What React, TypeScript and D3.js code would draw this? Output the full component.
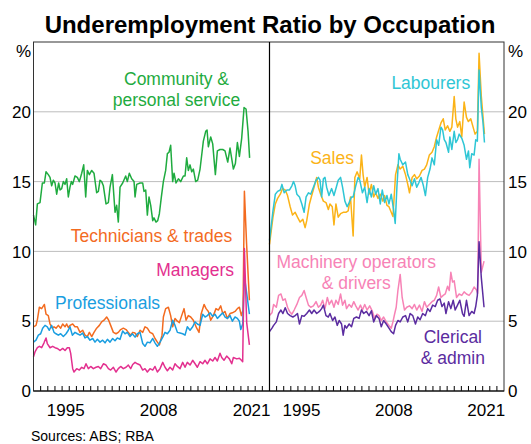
import React from 'react';
import * as d3 from 'd3';

type Pt = [number, number];

// underemployment ratio, per cent, [year, value]
const community: Pt[] = [
  [1991.0, 12.6], [1991.3, 11.9], [1991.54, 13.4], [1991.91, 13.5], [1992.24, 14.9], [1992.52, 14.9],
  [1992.75, 15.7], [1993.07, 15.5], [1993.31, 15.3], [1993.54, 14.7], [1993.77, 15.1], [1994.01, 14.9],
  [1994.24, 14.1], [1994.52, 14.9], [1994.71, 14.4], [1994.94, 14.5], [1995.17, 15.0], [1995.41, 14.8],
  [1995.64, 15.2], [1995.87, 13.9], [1996.1, 14.6], [1996.29, 15.0], [1996.48, 14.8], [1996.8, 15.4],
  [1997.13, 15.3], [1997.41, 15.0], [1997.74, 15.6], [1998.02, 16.2], [1998.3, 13.9], [1998.53, 15.8],
  [1998.81, 15.5], [1999.14, 15.8], [1999.46, 15.6], [1999.83, 14.2], [2000.07, 14.3], [2000.3, 15.1],
  [2000.53, 15.0], [2000.77, 14.7], [2001.14, 13.4], [2001.47, 13.5], [2001.7, 14.6], [2002.03, 15.5],
  [2002.4, 12.8], [2002.63, 13.3], [2002.86, 12.1], [2003.1, 14.6], [2003.47, 14.9], [2003.89, 15.4],
  [2004.12, 15.0], [2004.4, 15.6], [2004.73, 15.2], [2005.06, 15.0], [2005.2, 13.9], [2005.43, 14.8],
  [2005.9, 14.9], [2006.27, 14.9], [2006.45, 14.3], [2006.69, 14.4], [2006.92, 12.6], [2007.15, 13.9],
  [2007.39, 13.3], [2007.67, 12.2], [2007.85, 12.4], [2008.13, 12.1], [2008.37, 12.2], [2008.6, 12.7],
  [2008.88, 13.9], [2009.16, 15.0], [2009.48, 15.8], [2009.72, 17.0], [2009.95, 17.1], [2010.18, 17.6],
  [2010.46, 15.0], [2010.65, 15.6], [2010.93, 14.9], [2011.26, 15.2], [2011.58, 15.0], [2011.96, 15.4],
  [2012.19, 15.4], [2012.42, 16.7], [2012.65, 15.8], [2012.89, 16.2], [2013.12, 15.7], [2013.35, 15.9],
  [2013.68, 15.0], [2013.96, 15.1], [2014.29, 15.9], [2014.75, 17.9], [2015.08, 18.6], [2015.27, 18.7],
  [2015.45, 17.5], [2015.78, 18.2], [2016.06, 17.7], [2016.43, 15.5], [2016.71, 17.2], [2017.08, 17.3],
  [2017.46, 17.3], [2017.78, 17.2], [2018.16, 16.4], [2018.48, 17.4], [2018.95, 15.9], [2019.23, 16.3],
  [2019.51, 17.8], [2019.79, 16.8], [2020.11, 18.1], [2020.44, 20.3], [2020.72, 20.2], [2021.0, 18.6],
  [2021.22, 16.7],
];

const technicians: Pt[] = [
  [1991.0, 4.6], [1991.35, 4.7], [1991.54, 5.1], [1991.82, 6.0], [1992.14, 5.9], [1992.52, 6.2],
  [1992.75, 5.5], [1993.07, 5.4], [1993.31, 4.8], [1993.63, 4.5], [1993.87, 4.6], [1994.15, 4.5],
  [1994.47, 4.7], [1994.8, 4.5], [1995.08, 4.8], [1995.41, 4.6], [1995.64, 4.8], [1995.87, 4.55],
  [1996.1, 4.7], [1996.48, 4.8], [1996.8, 4.6], [1997.13, 4.6], [1997.5, 4.2], [1997.88, 4.35],
  [1998.2, 4.0], [1998.53, 3.9], [1998.81, 4.2], [1999.14, 3.9], [1999.46, 4.2], [1999.83, 4.5],
  [2000.21, 4.7], [2000.53, 4.95], [2000.86, 5.07], [2001.23, 5.3], [2001.51, 5.07], [2001.79, 4.7],
  [2002.17, 4.2], [2002.54, 4.1], [2002.86, 4.2], [2003.19, 4.4], [2003.56, 4.5], [2003.94, 4.4],
  [2004.26, 4.2], [2004.59, 4.0], [2004.87, 4.2], [2005.2, 4.15], [2005.52, 3.9], [2005.9, 4.35],
  [2006.27, 4.2], [2006.59, 4.6], [2006.92, 4.5], [2007.29, 4.2], [2007.67, 4.1], [2007.99, 3.76],
  [2008.32, 3.5], [2008.6, 3.3], [2008.97, 4.0], [2009.16, 5.3], [2009.48, 5.9], [2009.86, 6.0],
  [2010.18, 5.4], [2010.46, 4.6], [2010.79, 5.2], [2011.12, 5.0], [2011.4, 4.9], [2011.72, 5.4],
  [2012.05, 5.9], [2012.33, 5.07], [2012.65, 5.4], [2012.98, 5.3], [2013.35, 5.07], [2013.82, 4.5],
  [2014.15, 4.2], [2014.43, 5.5], [2014.85, 6.2], [2015.13, 5.9], [2015.45, 5.7], [2015.78, 5.07],
  [2016.15, 5.4], [2016.52, 5.9], [2016.85, 5.8], [2017.18, 6.1], [2017.46, 5.55], [2017.78, 5.7],
  [2018.11, 5.2], [2018.48, 5.55], [2018.81, 5.6], [2019.18, 5.7], [2019.51, 5.9], [2019.79, 6.0],
  [2020.07, 5.4], [2020.3, 5.8], [2020.49, 14.3], [2020.8, 10.5], [2021.19, 6.5],
];

const professionals: Pt[] = [
  [1991.0, 3.5], [1991.35, 3.64], [1991.68, 4.0], [1992.0, 4.1], [1992.28, 4.5], [1992.61, 4.7],
  [1992.93, 4.6], [1993.21, 4.35], [1993.54, 4.7], [1993.87, 4.2], [1994.15, 4.1], [1994.47, 4.0],
  [1994.8, 4.1], [1995.17, 3.9], [1995.55, 4.1], [1995.87, 4.35], [1996.1, 4.6], [1996.43, 4.0],
  [1996.8, 4.2], [1997.13, 4.1], [1997.5, 4.0], [1997.88, 4.15], [1998.2, 3.8], [1998.53, 3.9],
  [1998.9, 3.64], [1999.28, 3.76], [1999.6, 3.5], [1999.93, 3.7], [2000.3, 3.5], [2000.67, 3.64],
  [2001.0, 3.45], [2001.33, 3.7], [2001.7, 3.5], [2002.07, 3.76], [2002.4, 3.6], [2002.72, 3.8],
  [2003.1, 3.7], [2003.47, 4.3], [2003.8, 4.1], [2004.12, 4.2], [2004.5, 3.9], [2004.82, 4.1],
  [2005.2, 3.86], [2005.52, 4.1], [2005.9, 4.2], [2006.27, 3.4], [2006.59, 3.2], [2006.92, 3.5],
  [2007.29, 3.45], [2007.67, 3.76], [2007.99, 3.45], [2008.32, 3.2], [2008.69, 3.5], [2009.07, 3.86],
  [2009.39, 4.2], [2009.72, 4.1], [2010.09, 4.35], [2010.46, 5.07], [2010.79, 4.7], [2011.12, 4.2],
  [2011.49, 4.15], [2011.86, 4.1], [2012.19, 4.0], [2012.51, 4.6], [2012.89, 4.35], [2013.26, 4.6],
  [2013.59, 4.95], [2013.91, 4.8], [2014.29, 4.7], [2014.66, 5.5], [2014.99, 5.3], [2015.31, 5.4],
  [2015.69, 5.6], [2016.06, 5.35], [2016.38, 5.5], [2016.71, 5.2], [2017.08, 5.4], [2017.46, 5.6],
  [2017.78, 5.3], [2018.11, 5.2], [2018.48, 5.4], [2018.81, 5.0], [2019.18, 5.3], [2019.51, 5.2],
  [2019.79, 5.0], [2019.98, 4.4], [2020.25, 4.8], [2020.49, 8.2], [2020.81, 7.0], [2021.19, 5.5],
];

const managers: Pt[] = [
  [1991.0, 2.45], [1991.21, 2.8], [1991.54, 3.1], [1991.82, 3.2], [1992.14, 3.1], [1992.47, 3.45],
  [1992.75, 3.8], [1992.93, 3.4], [1993.31, 3.1], [1993.68, 3.2], [1994.01, 3.1], [1994.33, 3.05],
  [1994.71, 2.9], [1995.08, 3.05], [1995.41, 2.9], [1995.73, 3.1], [1996.01, 3.1], [1996.2, 2.7],
  [1996.48, 1.6], [1996.66, 1.36], [1997.04, 1.6], [1997.41, 1.5], [1997.74, 1.7], [1998.06, 1.6],
  [1998.34, 1.95], [1998.67, 1.6], [1999.0, 1.76], [1999.37, 1.6], [1999.74, 1.7], [2000.07, 1.76],
  [2000.39, 1.6], [2000.77, 1.95], [2001.14, 1.86], [2001.47, 1.6], [2001.79, 1.5], [2002.17, 1.7],
  [2002.54, 1.36], [2002.86, 1.6], [2003.19, 1.76], [2003.56, 1.6], [2003.94, 1.7], [2004.26, 1.86],
  [2004.59, 1.6], [2004.87, 1.9], [2005.2, 2.05], [2005.52, 1.95], [2005.9, 1.86], [2006.27, 1.5],
  [2006.59, 1.6], [2006.92, 1.36], [2007.29, 1.6], [2007.67, 1.5], [2007.99, 1.76], [2008.32, 1.36],
  [2008.69, 1.6], [2009.07, 2.05], [2009.39, 1.7], [2009.72, 1.45], [2010.09, 1.7], [2010.46, 1.5],
  [2010.79, 1.95], [2011.12, 1.76], [2011.49, 1.6], [2011.86, 2.05], [2012.19, 1.7], [2012.51, 2.05],
  [2012.89, 1.86], [2013.26, 2.2], [2013.59, 1.95], [2013.91, 1.7], [2014.29, 2.1], [2014.66, 1.95],
  [2014.99, 2.2], [2015.31, 1.95], [2015.69, 2.3], [2016.06, 2.15], [2016.38, 2.4], [2016.71, 2.15],
  [2017.08, 2.7], [2017.32, 2.4], [2017.64, 2.2], [2018.01, 2.5], [2018.39, 2.3], [2018.72, 1.95],
  [2018.95, 2.4], [2019.42, 2.3], [2019.79, 2.35], [2020.07, 2.2], [2020.25, 2.1], [2020.49, 10.2],
  [2020.81, 4.9], [2021.19, 3.3],
];

const sales: Pt[] = [
  [1991.0, 10.5], [1991.49, 12.45], [1991.82, 13.4], [1992.14, 13.8], [1992.52, 14.1], [1992.84, 14.5],
  [1993.21, 14.4], [1993.54, 14.0], [1993.91, 13.2], [1994.24, 12.6], [1994.61, 12.8], [1994.94, 12.45],
  [1995.31, 12.1], [1995.69, 12.3], [1996.01, 11.7], [1996.24, 12.2], [1996.62, 13.4], [1996.94, 14.0],
  [1997.27, 14.6], [1997.64, 15.3], [1997.88, 14.6], [1998.2, 14.1], [1998.58, 13.6], [1998.95, 13.5],
  [1999.28, 13.0], [1999.51, 13.4], [1999.83, 13.2], [2000.07, 11.9], [2000.35, 13.4], [2000.67, 12.45],
  [2001.0, 12.7], [2001.37, 12.8], [2001.75, 12.8], [2002.07, 12.9], [2002.4, 13.9], [2002.77, 11.1],
  [2003.01, 15.3], [2003.33, 15.7], [2003.7, 15.2], [2003.94, 16.9], [2004.17, 15.5], [2004.4, 14.6],
  [2004.73, 15.3], [2005.01, 14.1], [2005.34, 14.8], [2005.66, 13.9], [2005.94, 14.2], [2006.27, 13.8],
  [2006.59, 14.1], [2006.97, 13.6], [2007.2, 14.0], [2007.53, 13.3], [2007.81, 13.2], [2008.13, 12.8],
  [2008.37, 12.5], [2008.74, 15.5], [2009.07, 16.2], [2009.39, 15.9], [2009.76, 16.1], [2010.14, 15.5],
  [2010.46, 14.8], [2010.7, 14.2], [2011.07, 15.3], [2011.4, 15.5], [2011.72, 15.2], [2012.1, 15.4],
  [2012.47, 15.8], [2012.8, 15.9], [2013.12, 16.2], [2013.49, 16.9], [2013.87, 17.1], [2014.19, 17.5],
  [2014.52, 18.2], [2014.89, 18.8], [2015.13, 19.2], [2015.45, 19.5], [2015.73, 18.7], [2016.06, 19.0],
  [2016.38, 18.6], [2016.66, 18.9], [2016.99, 21.1], [2017.22, 19.5], [2017.46, 18.9], [2017.78, 19.3],
  [2018.06, 18.2], [2018.39, 20.7], [2018.72, 19.6], [2018.99, 19.3], [2019.32, 19.5], [2019.65, 18.9],
  [2019.93, 18.4], [2020.25, 18.6], [2020.49, 24.2], [2020.81, 21.1], [2021.05, 19.6], [2021.25, 18.4],
];

const labourers: Pt[] = [
  [1991.0, 10.8], [1991.49, 12.9], [1991.82, 14.1], [1992.14, 14.3], [1992.52, 14.4], [1992.75, 14.8],
  [1993.07, 14.2], [1993.45, 14.4], [1993.82, 14.4], [1994.15, 14.7], [1994.38, 15.0], [1994.61, 14.7],
  [1994.85, 14.1], [1995.22, 13.9], [1995.55, 13.4], [1995.87, 12.8], [1996.15, 13.9], [1996.48, 14.2],
  [1996.8, 14.1], [1997.18, 14.6], [1997.55, 15.1], [1997.88, 15.3], [1998.11, 15.1], [1998.34, 13.9],
  [1998.58, 15.2], [1998.81, 15.3], [1999.04, 14.6], [1999.37, 14.0], [1999.74, 14.5], [2000.07, 14.0],
  [2000.35, 14.5], [2000.67, 15.1], [2001.0, 15.3], [2001.28, 14.6], [2001.61, 13.6], [2001.93, 13.2],
  [2002.21, 13.5], [2002.54, 13.9], [2002.77, 13.9], [2003.14, 14.7], [2003.47, 15.3], [2003.7, 15.1],
  [2004.08, 14.2], [2004.4, 14.6], [2004.73, 13.5], [2005.01, 14.5], [2005.34, 13.9], [2005.66, 14.7],
  [2005.94, 14.1], [2006.27, 14.5], [2006.59, 13.4], [2006.87, 14.4], [2007.2, 13.5], [2007.53, 14.0],
  [2007.81, 13.4], [2008.13, 14.1], [2008.46, 13.0], [2008.69, 12.0], [2008.93, 14.6], [2009.21, 17.0],
  [2009.39, 16.6], [2009.76, 16.2], [2010.14, 16.4], [2010.46, 15.5], [2010.7, 15.2], [2011.07, 14.7],
  [2011.4, 15.2], [2011.72, 14.6], [2012.0, 14.9], [2012.33, 15.3], [2012.66, 14.7], [2012.94, 14.0],
  [2013.26, 15.3], [2013.59, 15.9], [2013.87, 16.7], [2014.19, 16.2], [2014.52, 18.0], [2014.8, 17.6],
  [2015.13, 18.9], [2015.36, 18.7], [2015.59, 18.0], [2015.83, 17.8], [2016.2, 17.1], [2016.38, 18.2],
  [2016.66, 17.3], [2016.99, 18.6], [2017.22, 17.8], [2017.46, 18.0], [2017.69, 18.4], [2018.06, 18.1],
  [2018.39, 17.6], [2018.72, 16.6], [2019.0, 17.2], [2019.18, 16.0], [2019.46, 17.0], [2019.79, 16.9],
  [2020.02, 18.0], [2020.25, 17.9], [2020.49, 23.0], [2020.81, 20.3], [2021.05, 19.2], [2021.25, 17.8],
];

const machinery: Pt[] = [
  [1991.0, 5.4], [1991.35, 5.6], [1991.58, 6.2], [1991.96, 6.0], [1992.28, 6.85], [1992.61, 6.95],
  [1992.89, 6.5], [1993.21, 6.6], [1993.54, 6.0], [1993.82, 5.7], [1994.15, 5.5], [1994.47, 5.8],
  [1994.85, 6.2], [1995.22, 6.7], [1995.55, 6.85], [1995.87, 7.2], [1996.15, 6.7], [1996.48, 6.15],
  [1996.8, 6.0], [1997.18, 6.1], [1997.55, 6.4], [1997.88, 6.0], [1998.2, 6.15], [1998.48, 6.5],
  [1998.81, 5.9], [1999.14, 6.7], [1999.41, 6.2], [1999.74, 6.5], [2000.07, 6.0], [2000.35, 6.5],
  [2000.67, 6.2], [2001.0, 6.95], [2001.28, 6.15], [2001.61, 6.5], [2001.84, 5.9], [2002.21, 6.2],
  [2002.54, 6.0], [2002.86, 6.4], [2003.14, 6.1], [2003.47, 5.8], [2003.8, 6.15], [2004.08, 5.8],
  [2004.4, 6.2], [2004.73, 5.8], [2005.1, 6.1], [2005.48, 5.7], [2005.8, 5.2], [2006.13, 5.5],
  [2006.41, 5.4], [2006.73, 5.05], [2007.06, 5.3], [2007.43, 4.95], [2007.81, 4.7], [2008.13, 4.5],
  [2008.37, 4.95], [2008.6, 5.5], [2008.83, 6.0], [2009.07, 7.2], [2009.39, 8.35], [2009.67, 6.7],
  [2010.0, 5.8], [2010.32, 6.0], [2010.7, 6.1], [2011.07, 5.9], [2011.4, 6.2], [2011.72, 5.8],
  [2012.1, 6.15], [2012.47, 5.7], [2012.8, 6.4], [2013.12, 6.0], [2013.49, 6.2], [2013.87, 6.4],
  [2014.19, 6.5], [2014.52, 6.85], [2014.8, 7.45], [2015.13, 6.7], [2015.45, 6.85], [2015.73, 6.95],
  [2016.06, 7.5], [2016.29, 7.2], [2016.52, 8.5], [2016.76, 7.8], [2016.99, 7.9], [2017.32, 6.7],
  [2017.69, 6.95], [2018.06, 6.85], [2018.39, 7.1], [2018.72, 6.95], [2019.09, 6.85], [2019.46, 7.1],
  [2019.79, 7.45], [2020.11, 7.25], [2020.3, 7.0], [2020.49, 16.6], [2020.81, 8.5], [2021.19, 9.3],
];

const clerical: Pt[] = [
  [1991.0, 4.25], [1991.35, 4.5], [1991.58, 4.7], [1991.96, 4.95], [1992.28, 5.55], [1992.61, 5.8],
  [1992.89, 5.55], [1993.21, 5.97], [1993.54, 5.55], [1993.91, 5.4], [1994.29, 5.3], [1994.61, 5.4],
  [1994.94, 5.55], [1995.22, 4.8], [1995.55, 5.4], [1995.87, 5.35], [1996.24, 5.55], [1996.62, 5.8],
  [1996.94, 5.55], [1997.27, 5.8], [1997.64, 5.55], [1998.02, 5.7], [1998.34, 5.9], [1998.58, 6.15],
  [1998.95, 5.4], [1999.28, 5.3], [1999.51, 5.55], [1999.88, 5.05], [2000.21, 5.3], [2000.53, 4.7],
  [2000.81, 5.05], [2001.14, 4.8], [2001.37, 4.0], [2001.61, 4.7], [2001.84, 4.5], [2002.21, 4.8],
  [2002.54, 4.6], [2002.86, 5.2], [2003.24, 5.3], [2003.61, 5.2], [2003.94, 5.8], [2004.26, 5.55],
  [2004.64, 5.7], [2005.01, 5.4], [2005.34, 5.75], [2005.66, 4.95], [2006.03, 5.4], [2006.41, 5.2],
  [2006.73, 4.6], [2007.06, 5.05], [2007.43, 4.8], [2007.81, 4.5], [2008.13, 4.25], [2008.46, 4.1],
  [2008.74, 4.7], [2009.07, 5.05], [2009.39, 4.95], [2009.76, 5.3], [2010.14, 5.4], [2010.46, 4.95],
  [2010.79, 5.55], [2011.16, 5.4], [2011.54, 4.8], [2011.86, 5.3], [2012.19, 5.1], [2012.56, 5.55],
  [2012.94, 5.4], [2013.26, 5.9], [2013.59, 5.7], [2013.96, 6.15], [2014.33, 6.05], [2014.66, 6.5],
  [2014.99, 6.6], [2015.27, 6.05], [2015.59, 6.3], [2015.83, 5.55], [2016.2, 6.4], [2016.52, 5.9],
  [2016.85, 6.5], [2017.13, 5.8], [2017.46, 6.15], [2017.78, 6.5], [2018.16, 5.55], [2018.39, 5.35],
  [2018.72, 6.5], [2019.09, 5.4], [2019.46, 5.7], [2019.79, 5.55], [2020.02, 6.05], [2020.25, 6.85],
  [2020.49, 10.7], [2020.81, 8.1], [2021.19, 6.0],
];

const yTicks = [0, 5, 10, 15, 20];
const yearLabels = [1995, 2008, 2021];

const leftSeries = [
  { name: 'Community & personal service', data: community, color: '#1fab3f' },
  { name: 'Technicians & trades', data: technicians, color: '#f36b1f' },
  { name: 'Professionals', data: professionals, color: '#1a9ee0' },
  { name: 'Managers', data: managers, color: '#e3308f' },
];
const rightSeries = [
  { name: 'Sales', data: sales, color: '#fbb317' },
  { name: 'Labourers', data: labourers, color: '#2ec6d5' },
  { name: 'Machinery operators & drivers', data: machinery, color: '#f783b6' },
  { name: 'Clerical & admin', data: clerical, color: '#5b2ca0' },
];

// label anchor in data units: [year, value]
const leftLabels = [
  { lines: ['Community &', 'personal service'], at: [2011.0, 22.36], color: '#1fab3f' },
  { lines: ['Technicians & trades'], at: [2007.5, 11.1], color: '#f36b1f' },
  { lines: ['Managers'], at: [2013.6, 8.7], color: '#e3308f' },
  { lines: ['Professionals'], at: [2001.35, 6.3], color: '#1a9ee0' },
];
const rightLabels = [
  { lines: ['Labourers'], at: [2013.7, 22.1], color: '#2ec6d5' },
  { lines: ['Sales'], at: [1999.8, 16.7], color: '#fbb317' },
  { lines: ['Machinery operators', '& drivers'], at: [2003.2, 9.25], color: '#f783b6' },
  { lines: ['Clerical', '& admin'], at: [2016.8, 3.85], color: '#5b2ca0' },
];

const FONT = 'Liberation Sans, Arial, Helvetica, sans-serif';

export default function App() {
  const width = 531;
  const height = 444;
  const left = 33.5, mid = 269.5, right = 504;
  const top = 42, bottom = 391;

  const y = d3.scaleLinear().domain([0, 25]).range([bottom, top]);
  const xL = d3.scaleLinear().domain([1991, 2024]).range([left, mid]);
  const xR = d3.scaleLinear().domain([1991, 2024]).range([mid, right]);

  const panels = [
    { x: xL, series: leftSeries, labels: leftLabels },
    { x: xR, series: rightSeries, labels: rightLabels },
  ];
  const years = d3.range(1992, 2024);

  return (
    <svg width={width} height={height} style={{ position: 'absolute', left: 0, top: 0, background: '#fff' }}
      fontFamily={FONT}>
      <text x={270} y={33} textAnchor="middle" fontSize={24} fontWeight="bold" fill="#000">
        Underemployment Ratio by Occupation
      </text>

      {yTicks.filter((t) => t > 0).map((t) => (
        <line key={t} x1={left} x2={right} y1={y(t)} y2={y(t)} stroke="#bdbdbd" strokeWidth={1} />
      ))}

      {panels.map((p, i) => (
        <g key={i}>
          {years.map((yr) => (
            <line key={yr} x1={p.x(yr)} x2={p.x(yr)} y1={bottom} y2={bottom - 5} stroke="#000" strokeWidth={1} />
          ))}
          {yearLabels.map((yr) => (
            <text key={yr} x={p.x(yr + 0.5)} y={416} textAnchor="middle" fontSize={17} fill="#000">{yr}</text>
          ))}
          {p.series.map((s) => {
            const line = d3.line<Pt>().x((d) => p.x(d[0])).y((d) => y(d[1]));
            return <path key={s.name} d={line(s.data) || ''} fill="none" stroke={s.color} strokeWidth={1.5}
              strokeLinejoin="round" />;
          })}
          {p.labels.map((l) => (
            <text key={l.lines[0]} x={p.x(l.at[0])} y={y(l.at[1])} textAnchor="middle" fontSize={17.5} fill={l.color}>
              {l.lines.map((ln, k) => (
                <tspan key={k} x={p.x(l.at[0])} dy={k === 0 ? '0.35em' : 21}>{ln}</tspan>
              ))}
            </text>
          ))}
        </g>
      ))}

      <rect x={left} y={top} width={right - left} height={bottom - top} fill="none" stroke="#333" strokeWidth={1} />
      <line x1={mid} x2={mid} y1={top} y2={bottom} stroke="#000" strokeWidth={1.2} />
      <line x1={left} x2={right} y1={bottom} y2={bottom} stroke="#000" strokeWidth={1.2} />

      {yTicks.map((t) => (
        <g key={t}>
          <text x={31} y={y(t)} dy="0.36em" textAnchor="end" fontSize={17} fill="#000">{t}</text>
          <text x={508} y={y(t)} dy="0.36em" textAnchor="start" fontSize={17} fill="#000">{t}</text>
        </g>
      ))}
      <text x={31} y={51} dy="0.36em" textAnchor="end" fontSize={17} fill="#000">%</text>
      <text x={508} y={51} dy="0.36em" textAnchor="start" fontSize={17} fill="#000">%</text>

      <text x={31} y={441} fontSize={14} fill="#000">Sources: ABS; RBA</text>
    </svg>
  );
}
